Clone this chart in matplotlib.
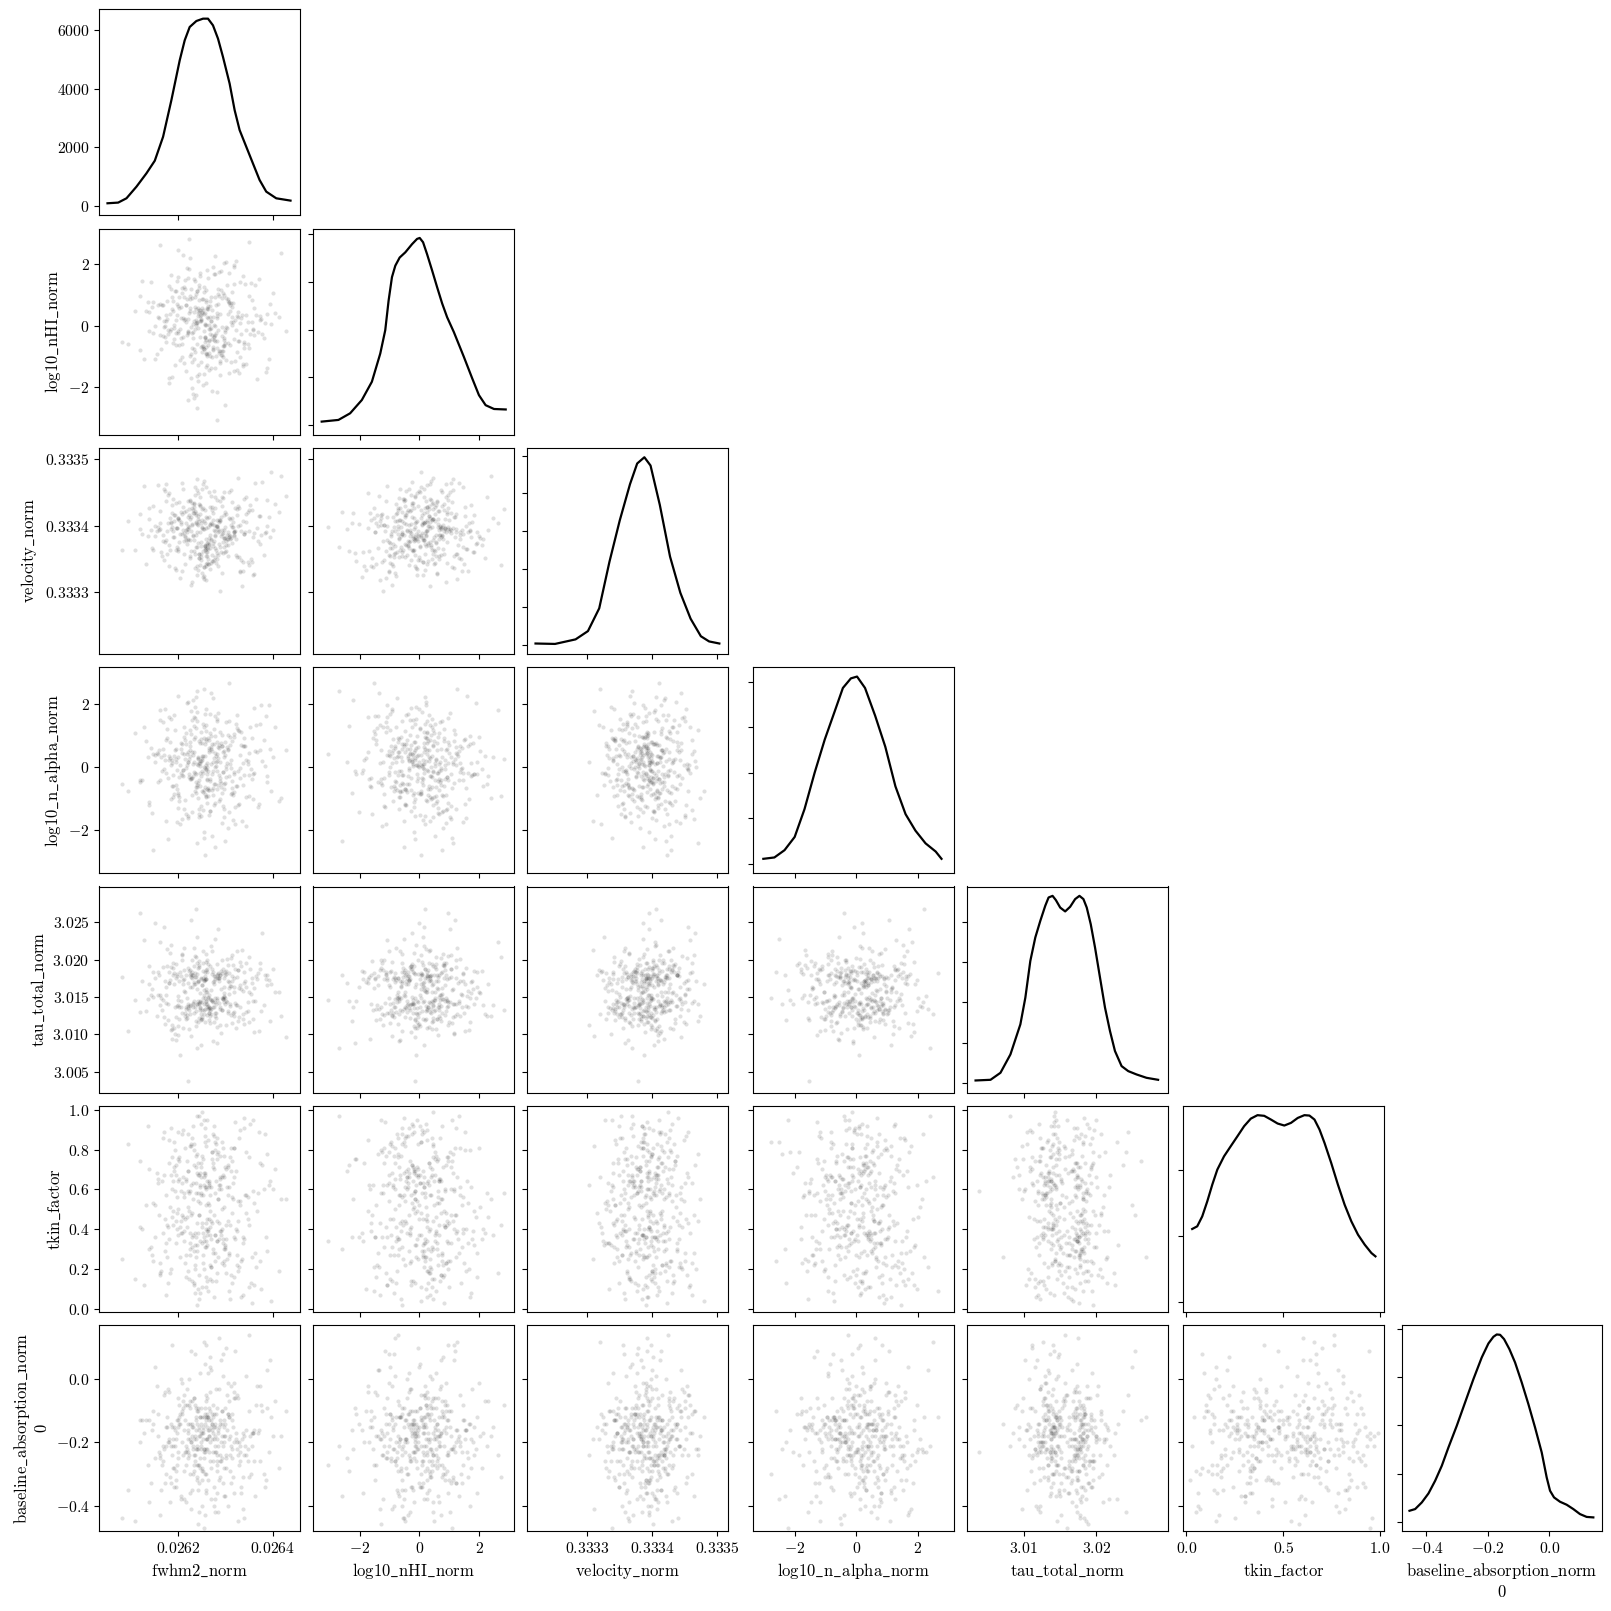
import matplotlib
matplotlib.use('Agg')
import matplotlib.pyplot as plt

plt.rcParams.update({
    'font.family': 'serif',
    'font.serif': ['cmr10', 'DejaVu Serif'],
    'mathtext.fontset': 'cm',
    'axes.formatter.use_mathtext': True,
    'axes.formatter.useoffset': False,
    'font.size': 11.3,
    'axes.labelsize': 12,
    'axes.linewidth': 0.8,
})

# ---------------- data ----------------
param_names = ['fwhm2_norm', 'log10_nHI_norm', 'velocity_norm', 'log10_n_alpha_norm',
               'tau_total_norm', 'tkin_factor', 'baseline_absorption_norm\n0']

fwhm2_norm = [
    0.026247, 0.026301, 0.026219, 0.026275, 0.026338, 0.026192, 0.026264, 0.026231, 0.026356, 0.026283, 0.026208, 0.026249, 0.026317, 0.026166, 0.026271, 0.026296, 0.026227, 0.026388, 0.026254, 0.026213,
    0.026309, 0.026238, 0.026180, 0.026268, 0.026326, 0.026257, 0.026142, 0.026293, 0.026233, 0.026361, 0.026201, 0.026279, 0.026246, 0.026324, 0.026188, 0.026259, 0.026412, 0.026222, 0.026286, 0.026241,
    0.026197, 0.026332, 0.026266, 0.026215, 0.026289, 0.026109, 0.026252, 0.026305, 0.026236, 0.026371, 0.026261, 0.026174, 0.026298, 0.026225, 0.026343, 0.026270, 0.026206, 0.026255, 0.026313, 0.026151,
    0.026277, 0.026242, 0.026350, 0.026189, 0.026263, 0.026229, 0.026304, 0.026163, 0.026284, 0.026250, 0.026397, 0.026218, 0.026273, 0.026196, 0.026321, 0.026244, 0.026281, 0.026125, 0.026260, 0.026335,
    0.026223, 0.026291, 0.026253, 0.026178, 0.026367, 0.026239, 0.026274, 0.026209, 0.026302, 0.026256, 0.026185, 0.026330, 0.026234, 0.026269, 0.026157, 0.026308, 0.026245, 0.026378, 0.026216, 0.026287,
    0.026262, 0.026194, 0.026319, 0.026237, 0.026282, 0.026136, 0.026258, 0.026344, 0.026221, 0.026297, 0.026183, 0.026267, 0.026230, 0.026354, 0.026248, 0.026205, 0.026310, 0.026172, 0.026278, 0.026240,
    0.026299, 0.026212, 0.026265, 0.026327, 0.026199, 0.026251, 0.026383, 0.026226, 0.026290, 0.026168, 0.026272, 0.026243, 0.026316, 0.026186, 0.026261, 0.026340, 0.026214, 0.026288, 0.026235, 0.026119,
    0.026255, 0.026306, 0.026228, 0.026363, 0.026244, 0.026280, 0.026191, 0.026323, 0.026259, 0.026210, 0.026294, 0.026148, 0.026270, 0.026237, 0.026347, 0.026203, 0.026276, 0.026252, 0.026404, 0.026220,
    0.026285, 0.026232, 0.026176, 0.026312, 0.026258, 0.026198, 0.026339, 0.026243, 0.026267, 0.026161, 0.026295, 0.026226, 0.026329, 0.026250, 0.026187, 0.026373, 0.026239, 0.026279, 0.026133, 0.026262,
    0.026217, 0.026300, 0.026246, 0.026358, 0.026207, 0.026271, 0.026236, 0.026318, 0.026182, 0.026256, 0.026292, 0.026224, 0.026391, 0.026263, 0.026195, 0.026307, 0.026248, 0.026170, 0.026283, 0.026229,
    0.026271, 0.026203, 0.026329, 0.026248, 0.026186, 0.026294, 0.026257, 0.026361, 0.026224, 0.026280, 0.026139, 0.026266, 0.026311, 0.026234, 0.026198, 0.026347, 0.026255, 0.026177, 0.026289, 0.026243,
    0.026318, 0.026229, 0.026264, 0.026151, 0.026302, 0.026252, 0.026381, 0.026211, 0.026274, 0.026239, 0.026336, 0.026190, 0.026268, 0.026296, 0.026222, 0.026427, 0.026259, 0.026168, 0.026314, 0.026247,
    0.026233, 0.026287, 0.026195, 0.026352, 0.026261, 0.026216, 0.026305, 0.026242, 0.026081, 0.026277, 0.026325, 0.026208, 0.026250, 0.026369, 0.026226, 0.026283, 0.026160, 0.026297, 0.026254, 0.026331,
    0.026260, 0.026184, 0.026322, 0.026236, 0.026292, 0.026145, 0.026269, 0.026241, 0.026356, 0.026219, 0.026301, 0.026174, 0.026275, 0.026230, 0.026394, 0.026255, 0.026201, 0.026285, 0.026120, 0.026313,
    0.026244, 0.026338, 0.026213, 0.026278, 0.026256, 0.026172, 0.026308, 0.026235, 0.026372, 0.026263, 0.026193, 0.026299, 0.026226, 0.026344, 0.026258, 0.026155, 0.026282, 0.026245, 0.026327, 0.026204,
    0.026292, 0.026238, 0.026165, 0.026315, 0.026251, 0.026387, 0.026220, 0.026273, 0.026199, 0.026306, 0.026260, 0.026128, 0.026289, 0.026232, 0.026350, 0.026214, 0.026268, 0.026309, 0.026182, 0.026257,
    0.026225, 0.026303, 0.026249, 0.026187, 0.026333, 0.026266, 0.026208, 0.026295, 0.026240, 0.026418, 0.026276, 0.026161, 0.026254, 0.026321, 0.026231, 0.026286, 0.026196, 0.026365, 0.026247, 0.026272,
    0.026300, 0.026217, 0.026262, 0.026342, 0.026179, 0.026283, 0.026237, 0.026311, 0.026148, 0.026265, 0.026228, 0.026359, 0.026253, 0.026202, 0.026290, 0.026243, 0.026376, 0.026211, 0.026270, 0.026095,
    0.026248, 0.026324, 0.026189, 0.026279, 0.026234, 0.026297, 0.026158, 0.026267, 0.026313, 0.026221, 0.026349, 0.026256, 0.026175, 0.026288, 0.026244, 0.026401, 0.026206, 0.026274, 0.026238, 0.026330,
    0.026265, 0.026192, 0.026307, 0.026227, 0.026282, 0.026139, 0.026259, 0.026340, 0.026246, 0.026213, 0.026293, 0.026170, 0.026276, 0.026319, 0.026233, 0.026261, 0.026385, 0.026200, 0.026284, 0.026250,
]

log10_nHI_norm = [
    0.31, -1.12, 0.87, -0.45, 1.63, -0.08, 0.54, -2.21, 0.12, -0.73, 1.05, 0.22, -1.48, 0.66, -0.29, 2.04, -0.91, 0.38, -0.17, 1.27,
    -0.62, 0.09, -1.85, 0.79, 0.45, -0.36, 1.41, -0.04, -1.07, 0.58, 2.47, -0.51, 0.17, -0.84, 0.95, -1.33, 0.27, -0.19, 1.76, -2.68,
    0.71, -0.27, 0.03, 1.18, -1.61, 0.49, -0.66, 0.88, -0.12, 1.52, -0.98, 0.34, -0.41, 2.19, -1.24, 0.14, 0.62, -0.77, 1.09, -0.02,
    -1.39, 0.41, 0.98, -0.55, 0.25, -2.03, 1.34, -0.31, 0.72, -0.86, 0.06, 1.88, -0.69, 0.19, -1.16, 0.83, -0.23, 1.47, -0.47, 0.36,
    2.81, -0.95, 0.52, -0.14, -1.72, 1.13, 0.28, -0.59, 0.91, -0.38, 1.66, -1.02, 0.44, -0.07, 0.68, -1.53, 1.22, -0.26, 0.11, -0.81,
    0.57, -1.29, 1.91, 0.01, -0.49, 0.76, -0.93, 0.35, -2.42, 1.01, -0.18, 0.64, -0.71, 1.39, 0.16, -1.11, 0.47, -0.35, 2.26, -0.58,
    -0.21, 0.93, -1.44, 0.29, 1.58, -0.65, 0.08, -0.99, 1.16, -0.33, 0.51, -1.79, 0.74, -0.11, 1.82, -0.53, 0.21, -1.21, 0.61, 0.97,
    -0.76, 0.39, -0.03, 1.31, -1.57, 0.69, -0.44, 2.11, -0.88, 0.24, 1.07, -0.24, -1.36, 0.55, 0.13, -0.64, 1.69, -1.93, 0.42, -0.16,
    1.21, -0.39, 0.81, -1.19, 0.04, 1.44, -0.72, 0.33, -0.09, 2.62, -1.01, 0.59, -0.48, 0.86, -1.66, 0.18, 1.12, -0.30, 0.48, -1.27,
    0.67, -0.57, 1.73, -0.15, 0.26, -2.11, 0.94, -0.42, 1.29, 0.07, -0.83, 0.43, -1.09, 1.55, -0.25, 0.74, -0.68, 0.15, -3.05, 0.89,
    -0.44, 0.92, -1.53, 0.18, 1.21, -0.67, 0.03, -0.29, 1.84, -0.97, 0.46, -0.12, 0.73, -2.36, 0.35, -0.58, 1.09, 0.21, -0.81, 0.57,
    1.37, -0.22, 0.64, -1.09, -0.05, 0.88, -0.41, 2.29, -0.74, 0.11, -1.31, 0.49, 0.27, -0.63, 1.56, -0.16, -1.87, 0.69, 0.04, -0.35,
    0.16, -0.88, 1.12, -0.26, 0.53, -1.46, 0.79, -0.07, -0.54, 1.68, 0.31, -1.02, 0.42, -0.19, 0.96, -2.14, 0.24, -0.47, 1.26, 0.08,
    -0.69, 0.37, -0.13, 1.47, -0.96, 0.61, 0.14, -1.62, 0.83, -0.31, 2.08, -0.53, 0.01, -1.18, 0.71, 0.38, -0.23, 1.03, -0.79, 0.29,
    0.51, -1.24, 0.19, 0.94, -0.39, -0.01, 1.72, -0.85, 0.33, -0.61, 1.14, -2.57, 0.47, -0.14, 0.78, -0.92, 0.26, 1.33, -0.48, -0.11,
    -0.33, 1.04, -0.76, 0.12, 0.59, -1.39, 0.22, 1.91, -0.18, -0.57, 0.84, -1.08, 0.39, 0.06, -0.71, 1.49, -0.27, 0.66, -1.71, 0.43,
    0.87, -0.06, -1.17, 0.55, 0.25, -0.45, 1.23, -0.82, 0.09, 2.38, -0.37, 0.72, -1.56, 0.18, -0.21, 0.98, -0.64, 0.34, 1.61, -1.01,
    -0.15, 0.67, -0.93, 1.36, -0.28, 0.41, -2.26, 0.13, 0.77, -0.49, 1.18, -0.09, -0.73, 0.58, 1.79, -1.28, 0.23, -0.36, 0.92, -0.58,
    0.35, -1.43, 0.82, -0.02, 1.53, -0.67, 0.27, -0.98, 0.61, -0.24, 2.71, -0.52, 0.14, -1.13, 0.46, 1.07, -0.41, -0.80, 0.19, 1.42,
    -0.87, 0.04, 0.76, -1.69, 0.31, -0.17, 1.17, -0.59, 0.52, -1.21, 0.89, -0.04, -0.34, 1.98, -0.77, 0.28, -1.49, 0.63, -0.13, 0.44,
]

velocity_norm = [
    0.3334302, 0.3333615, 0.3333948, 0.3334517, 0.3333327, 0.3334071, 0.3333762, 0.3334189, 0.3333459, 0.3333993, 0.3334644, 0.3333701, 0.3333910, 0.3333548, 0.3334236, 0.3333823, 0.3333102, 0.3334385, 0.3333956, 0.3333581,
    0.3333841, 0.3334157, 0.3333394, 0.3334012, 0.3334712, 0.3333669, 0.3333933, 0.3334296, 0.3333780, 0.3333271, 0.3334118, 0.3333865, 0.3334439, 0.3333528, 0.3333977, 0.3333186, 0.3334204, 0.3333806, 0.3334063, 0.3333688,
    0.3333962, 0.3333488, 0.3334501, 0.3333831, 0.3334079, 0.3333637, 0.3334268, 0.3333901, 0.3333372, 0.3334142, 0.3333735, 0.3334620, 0.3333941, 0.3333512, 0.3334183, 0.3333787, 0.3334027, 0.3333246, 0.3334358, 0.3333852,
    0.3333668, 0.3334094, 0.3333920, 0.3334409, 0.3333421, 0.3334031, 0.3333796, 0.3334216, 0.3333560, 0.3333984, 0.3334803, 0.3333720, 0.3334087, 0.3333341, 0.3333926, 0.3334321, 0.3333643, 0.3333879, 0.3334135, 0.3333089,
    0.3334254, 0.3333843, 0.3333613, 0.3334046, 0.3333968, 0.3334541, 0.3333466, 0.3333872, 0.3334177, 0.3333701, 0.3334038, 0.3333303, 0.3334337, 0.3333803, 0.3333987, 0.3334109, 0.3333571, 0.3334662, 0.3333791, 0.3333926,
    0.3333551, 0.3334158, 0.3333903, 0.3333684, 0.3334392, 0.3333846, 0.3333418, 0.3334058, 0.3333950, 0.3334512, 0.3333638, 0.3333864, 0.3334262, 0.3333493, 0.3334034, 0.3333211, 0.3334102, 0.3333749, 0.3334429, 0.3333913,
    0.3333819, 0.3334202, 0.3333432, 0.3334001, 0.3333655, 0.3334559, 0.3333889, 0.3333543, 0.3334129, 0.3333773, 0.3334289, 0.3333333, 0.3333976, 0.3334053, 0.3333606, 0.3334397, 0.3333841, 0.3333024, 0.3334220, 0.3333952,
    0.3334073, 0.3333718, 0.3333926, 0.3334647, 0.3333518, 0.3333995, 0.3334162, 0.3333801, 0.3333397, 0.3334281, 0.3333894, 0.3333629, 0.3334445, 0.3333856, 0.3333460, 0.3334091, 0.3333934, 0.3333228, 0.3334326, 0.3333787,
    0.3333899, 0.3334240, 0.3333575, 0.3334012, 0.3334575, 0.3333680, 0.3333876, 0.3334145, 0.3333350, 0.3334041, 0.3333761, 0.3334378, 0.3333537, 0.3333959, 0.3334186, 0.3333733, 0.3334708, 0.3333850, 0.3333426, 0.3334109,
    0.3333932, 0.3333599, 0.3334311, 0.3333827, 0.3334059, 0.3333476, 0.3334464, 0.3333916, 0.3333708, 0.3334231, 0.3333293, 0.3333986, 0.3334137, 0.3333647, 0.3334348, 0.3333861, 0.3333525, 0.3334558, 0.3333977, 0.3333150,
    0.3334021, 0.3333752, 0.3334266, 0.3333582, 0.3333947, 0.3334413, 0.3333695, 0.3333884, 0.3334160, 0.3333437, 0.3334098, 0.3333813, 0.3334533, 0.3333619, 0.3333970, 0.3334214, 0.3333380, 0.3333918, 0.3334065, 0.3333737,
    0.3333866, 0.3334345, 0.3333506, 0.3334003, 0.3333778, 0.3334622, 0.3333559, 0.3333935, 0.3334193, 0.3333264, 0.3334076, 0.3333833, 0.3334281, 0.3333677, 0.3333992, 0.3334441, 0.3333602, 0.3333859, 0.3334119, 0.3333404,
    0.3334188, 0.3333724, 0.3333961, 0.3334307, 0.3333447, 0.3334035, 0.3333808, 0.3334499, 0.3333632, 0.3333918, 0.3334247, 0.3333318, 0.3334084, 0.3333766, 0.3334381, 0.3333583, 0.3333942, 0.3334156, 0.3333195, 0.3334013,
    0.3333794, 0.3334122, 0.3333553, 0.3334580, 0.3333876, 0.3333661, 0.3334044, 0.3333399, 0.3334233, 0.3333905, 0.3333714, 0.3334365, 0.3333487, 0.3334010, 0.3333836, 0.3334675, 0.3333624, 0.3333954, 0.3334181, 0.3333742,
    0.3334069, 0.3333455, 0.3333890, 0.3334274, 0.3333706, 0.3334527, 0.3333827, 0.3333572, 0.3334148, 0.3333979, 0.3333361, 0.3334209, 0.3333783, 0.3334433, 0.3333649, 0.3333928, 0.3334087, 0.3333516, 0.3334304, 0.3333870,
    0.3333937, 0.3334195, 0.3333611, 0.3334054, 0.3333283, 0.3333996, 0.3334372, 0.3333745, 0.3334112, 0.3333538, 0.3333968, 0.3334591, 0.3333688, 0.3333854, 0.3334238, 0.3333419, 0.3334029, 0.3333801, 0.3334486, 0.3333643,
    0.3334105, 0.3333858, 0.3333478, 0.3334319, 0.3333920, 0.3333715, 0.3334171, 0.3333593, 0.3334029, 0.3334742, 0.3333771, 0.3333946, 0.3333376, 0.3334261, 0.3333839, 0.3334083, 0.3333632, 0.3334408, 0.3333901, 0.3333564,
    0.3333983, 0.3334227, 0.3333671, 0.3333901, 0.3334463, 0.3333497, 0.3334044, 0.3333818, 0.3334296, 0.3333731, 0.3334131, 0.3333266, 0.3333957, 0.3334352, 0.3333605, 0.3334008, 0.3333862, 0.3334553, 0.3333441, 0.3334076,
    0.3333749, 0.3334158, 0.3333924, 0.3333530, 0.3334284, 0.3333812, 0.3334617, 0.3333660, 0.3333975, 0.3334125, 0.3333405, 0.3334040, 0.3333788, 0.3334379, 0.3333575, 0.3333941, 0.3334214, 0.3333696, 0.3334063, 0.3333315,
    0.3334137, 0.3333829, 0.3334505, 0.3333624, 0.3333996, 0.3334261, 0.3333549, 0.3333880, 0.3334176, 0.3333768, 0.3334432, 0.3333482, 0.3334018, 0.3333853, 0.3334328, 0.3333709, 0.3333910, 0.3334094, 0.3333391, 0.3334249,
]

log10_n_alpha_norm = [
    -0.58, 1.42, 0.07, -1.21, 0.66, 0.34, -0.92, 2.13, -0.37, 0.81, -1.64, 0.19, 1.04, -0.13, -0.71, 0.52, 1.77, -0.28, -2.06, 0.41,
    0.95, -0.46, 0.23, -1.38, 1.19, -0.04, 0.62, -0.83, 1.58, -0.19, 0.31, -2.52, 0.77, -0.61, 0.12, 1.33, -1.07, 0.48, -0.24, 2.41,
    -0.09, 0.71, -1.51, 0.27, -0.35, 1.08, -0.79, 0.56, 1.92, -1.18, 0.02, 0.87, -0.52, 0.36, -1.86, 0.64, -0.17, 1.26, -0.67, 0.18,
    1.61, -0.99, 0.44, -0.26, 0.92, -1.43, 0.13, 1.49, -0.55, 0.29, -0.74, 2.02, -0.11, 0.58, -1.27, 0.83, 0.05, -0.42, 1.14, -1.69,
    0.26, -0.63, 1.37, -2.28, 0.49, 0.09, -0.88, 0.73, -0.31, 1.68, -1.02, 0.38, -0.15, 0.99, -0.47, 2.66, -1.34, 0.21, -0.02, 0.61,
    -1.12, 0.54, -0.21, 1.23, -0.69, 0.33, 1.86, -0.94, 0.16, -1.59, 0.79, -0.38, 0.47, -0.06, 1.11, -1.79, 0.69, 0.24, -0.53, 1.45,
    0.39, -1.31, 0.86, -0.12, 2.27, -0.76, 0.03, 1.17, -0.49, 0.58, -2.17, 0.28, -0.87, 1.52, -0.23, 0.67, -1.04, 0.15, 0.96, -0.41,
    -0.72, 1.03, -0.33, 0.51, -1.47, 0.17, 1.64, -0.58, 0.89, -0.08, -1.22, 0.42, 2.34, -0.64, 0.11, -0.96, 0.74, -0.18, 1.28, -1.55,
    0.63, -0.27, 1.21, -0.84, 0.06, -1.73, 0.93, 0.32, -0.45, 1.81, -0.14, 0.55, -1.16, 0.22, -0.59, 1.36, -2.41, 0.46, 0.84, -0.36,
    1.09, -0.51, 0.14, -1.01, 0.76, -0.20, 1.56, -0.78, 0.37, -2.79, 0.68, -0.30, 1.98, -0.66, 0.25, -1.41, 0.88, -0.07, 0.43, -0.89,
    0.72, -0.31, 1.16, -1.54, 0.08, 0.47, -0.86, 1.89, -0.22, 0.35, -1.19, 0.61, -0.02, 1.31, -0.68, 0.19, -2.23, 0.93, -0.43, 0.26,
    -0.15, 1.51, -0.73, 0.39, 0.04, -1.36, 0.86, -0.27, 2.18, -0.57, 0.13, -0.94, 1.07, 0.32, -1.62, 0.56, -0.09, 1.43, -0.81, 0.21,
    0.48, -1.08, 0.17, 1.27, -0.39, 0.74, -1.93, 0.06, -0.52, 0.99, 1.64, -0.24, 0.37, -1.27, 0.81, -0.11, 0.55, -0.70, 2.49, -0.33,
    -0.96, 0.29, 1.38, -0.18, 0.66, -1.45, 0.11, -0.62, 0.91, 0.43, -0.06, -1.71, 1.22, -0.35, 0.59, 0.02, -0.88, 1.72, -0.46, 0.84,
    0.14, -0.55, 0.97, -1.13, 0.36, 1.83, -0.29, -0.77, 0.53, -0.12, 1.19, -2.34, 0.67, 0.23, -0.91, 0.44, 1.47, -0.40, -1.20, 0.07,
    1.02, -0.21, 0.31, -1.66, 0.78, -0.47, 2.06, 0.15, -0.83, 0.57, -0.05, 1.29, -1.01, 0.38, -0.26, 0.87, -1.39, 0.10, 1.59, -0.64,
    -0.37, 0.63, -1.24, 0.22, 1.11, -0.71, 0.45, -0.14, 1.76, -0.98, 0.28, -0.42, 0.94, -1.81, 0.09, 0.71, -0.56, 1.35, -0.19, 0.52,
    0.81, -1.47, 0.12, 0.66, -0.34, 1.54, -0.82, 0.24, -2.61, 0.47, 1.06, -0.23, 0.35, -1.06, 0.76, -0.49, 1.98, -0.10, 0.58, -0.75,
    -0.28, 1.24, -0.60, 0.01, 0.89, -1.32, 0.41, 1.68, -0.44, 0.16, -0.92, 0.73, -0.17, 1.13, -1.58, 0.32, 0.59, -0.65, 2.21, -0.03,
    0.54, -0.84, 1.45, -0.38, 0.20, -1.11, 0.83, -0.25, 0.05, 1.27, -1.76, 0.39, -0.54, 0.97, 0.18, -0.69, 1.61, -1.28, 0.30, -0.13,
]

tau_total_norm = [
    3.0143, 3.0181, 3.0126, 3.0172, 3.0158, 3.0109, 3.0194, 3.0137, 3.0169, 3.0149, 3.0206, 3.0121, 3.0176, 3.0133, 3.0188, 3.0155, 3.0098, 3.0179, 3.0141, 3.0216,
    3.0165, 3.0131, 3.0184, 3.0147, 3.0118, 3.0173, 3.0152, 3.0199, 3.0128, 3.0162, 3.0139, 3.0228, 3.0144, 3.0177, 3.0112, 3.0186, 3.0157, 3.0135, 3.0171, 3.0081,
    3.0138, 3.0192, 3.0153, 3.0124, 3.0179, 3.0146, 3.0211, 3.0131, 3.0167, 3.0104, 3.0183, 3.0142, 3.0175, 3.0127, 3.0196, 3.0159, 3.0136, 3.0173, 3.0115, 3.0249,
    3.0178, 3.0145, 3.0116, 3.0189, 3.0134, 3.0163, 3.0201, 3.0139, 3.0182, 3.0123, 3.0168, 3.0149, 3.0091, 3.0176, 3.0142, 3.0193, 3.0129, 3.0171, 3.0156, 3.0213,
    3.0132, 3.0185, 3.0148, 3.0119, 3.0174, 3.0161, 3.0137, 3.0207, 3.0144, 3.0178, 3.0106, 3.0166, 3.0191, 3.0127, 3.0152, 3.0182, 3.0140, 3.0236, 3.0121, 3.0175,
    3.0187, 3.0136, 3.0163, 3.0111, 3.0180, 3.0147, 3.0197, 3.0130, 3.0169, 3.0143, 3.0209, 3.0124, 3.0176, 3.0154, 3.0085, 3.0184, 3.0138, 3.0172, 3.0125, 3.0195,
    3.0141, 3.0174, 3.0119, 3.0186, 3.0151, 3.0133, 3.0179, 3.0164, 3.0102, 3.0190, 3.0146, 3.0170, 3.0128, 3.0219, 3.0140, 3.0183, 3.0156, 3.0113, 3.0177, 3.0262,
    3.0152, 3.0129, 3.0181, 3.0145, 3.0198, 3.0122, 3.0167, 3.0139, 3.0174, 3.0108, 3.0188, 3.0150, 3.0134, 3.0203, 3.0143, 3.0171, 3.0117, 3.0185, 3.0157, 3.0038,
    3.0176, 3.0140, 3.0192, 3.0126, 3.0160, 3.0181, 3.0114, 3.0172, 3.0135, 3.0224, 3.0148, 3.0179, 3.0123, 3.0166, 3.0094, 3.0187, 3.0141, 3.0174, 3.0131, 3.0200,
    3.0137, 3.0183, 3.0155, 3.0120, 3.0178, 3.0144, 3.0205, 3.0130, 3.0169, 3.0149, 3.0182, 3.0107, 3.0173, 3.0138, 3.0194, 3.0162, 3.0127, 3.0244, 3.0146, 3.0180,
    3.0181, 3.0136, 3.0162, 3.0119, 3.0190, 3.0147, 3.0174, 3.0103, 3.0185, 3.0140, 3.0167, 3.0128, 3.0202, 3.0145, 3.0178, 3.0131, 3.0159, 3.0214, 3.0137, 3.0172,
    3.0125, 3.0184, 3.0150, 3.0176, 3.0112, 3.0195, 3.0139, 3.0168, 3.0143, 3.0230, 3.0120, 3.0180, 3.0133, 3.0163, 3.0189, 3.0097, 3.0174, 3.0146, 3.0206, 3.0135,
    3.0170, 3.0142, 3.0123, 3.0187, 3.0156, 3.0134, 3.0193, 3.0116, 3.0177, 3.0148, 3.0211, 3.0129, 3.0166, 3.0182, 3.0138, 3.0088, 3.0179, 3.0151, 3.0127, 3.0197,
    3.0144, 3.0173, 3.0109, 3.0182, 3.0132, 3.0160, 3.0218, 3.0141, 3.0176, 3.0122, 3.0185, 3.0153, 3.0137, 3.0199, 3.0118, 3.0171, 3.0146, 3.0241, 3.0130, 3.0178,
    3.0190, 3.0127, 3.0158, 3.0143, 3.0184, 3.0114, 3.0170, 3.0136, 3.0196, 3.0149, 3.0101, 3.0180, 3.0139, 3.0164, 3.0208, 3.0124, 3.0175, 3.0142, 3.0186, 3.0072,
    3.0133, 3.0177, 3.0148, 3.0193, 3.0121, 3.0166, 3.0138, 3.0183, 3.0111, 3.0172, 3.0145, 3.0226, 3.0134, 3.0179, 3.0157, 3.0128, 3.0191, 3.0140, 3.0169, 3.0117,
    3.0186, 3.0143, 3.0174, 3.0107, 3.0161, 3.0135, 3.0200, 3.0147, 3.0181, 3.0125, 3.0168, 3.0152, 3.0132, 3.0188, 3.0142, 3.0175, 3.0093, 3.0178, 3.0137, 3.0212,
    3.0149, 3.0179, 3.0126, 3.0171, 3.0140, 3.0194, 3.0118, 3.0165, 3.0183, 3.0136, 3.0253, 3.0144, 3.0176, 3.0121, 3.0160, 3.0189, 3.0131, 3.0173, 3.0146, 3.0105,
    3.0175, 3.0139, 3.0196, 3.0129, 3.0167, 3.0150, 3.0184, 3.0115, 3.0172, 3.0141, 3.0204, 3.0134, 3.0163, 3.0180, 3.0122, 3.0187, 3.0145, 3.0170, 3.0268, 3.0136,
    3.0128, 3.0182, 3.0154, 3.0177, 3.0110, 3.0192, 3.0140, 3.0169, 3.0133, 3.0186, 3.0148, 3.0123, 3.0178, 3.0157, 3.0215, 3.0137, 3.0174, 3.0099, 3.0181, 3.0143,
]

tkin_factor = [
    0.62, 0.18, 0.41, 0.87, 0.33, 0.71, 0.09, 0.55, 0.26, 0.78, 0.47, 0.93, 0.36, 0.64, 0.14, 0.51, 0.82, 0.29, 0.68, 0.39,
    0.05, 0.58, 0.73, 0.22, 0.44, 0.91, 0.31, 0.66, 0.12, 0.53, 0.37, 0.84, 0.61, 0.27, 0.76, 0.43, 0.19, 0.69, 0.35, 0.97,
    0.48, 0.24, 0.63, 0.81, 0.39, 0.15, 0.57, 0.72, 0.32, 0.89, 0.45, 0.07, 0.66, 0.38, 0.79, 0.21, 0.59, 0.34, 0.74, 0.52,
    0.28, 0.67, 0.11, 0.42, 0.85, 0.36, 0.61, 0.23, 0.55, 0.77, 0.04, 0.46, 0.71, 0.33, 0.94, 0.17, 0.64, 0.40, 0.82, 0.25,
    0.58, 0.37, 0.75, 0.13, 0.49, 0.68, 0.30, 0.88, 0.42, 0.61, 0.20, 0.54, 0.83, 0.35, 0.65, 0.09, 0.47, 0.72, 0.27, 0.60,
    0.39, 0.80, 0.16, 0.63, 0.44, 0.92, 0.31, 0.57, 0.69, 0.24, 0.51, 0.37, 0.86, 0.13, 0.66, 0.41, 0.76, 0.29, 0.58, 0.02,
    0.71, 0.34, 0.52, 0.19, 0.64, 0.43, 0.88, 0.27, 0.60, 0.38, 0.79, 0.10, 0.55, 0.67, 0.32, 0.96, 0.45, 0.62, 0.22, 0.74,
    0.36, 0.57, 0.83, 0.28, 0.47, 0.14, 0.69, 0.40, 0.61, 0.90, 0.33, 0.53, 0.21, 0.77, 0.45, 0.65, 0.06, 0.38, 0.70, 0.59,
    0.26, 0.63, 0.42, 0.81, 0.11, 0.56, 0.35, 0.73, 0.49, 0.18, 0.67, 0.30, 0.86, 0.41, 0.60, 0.24, 0.78, 0.37, 0.52, 0.95,
    0.64, 0.31, 0.08, 0.59, 0.44, 0.75, 0.20, 0.66, 0.35, 0.84, 0.50, 0.15, 0.62, 0.40, 0.72, 0.27, 0.57, 0.89, 0.34, 0.48,
    0.43, 0.76, 0.21, 0.58, 0.91, 0.35, 0.67, 0.12, 0.49, 0.83, 0.30, 0.62, 0.17, 0.72, 0.40, 0.56, 0.95, 0.26, 0.65, 0.38,
    0.81, 0.14, 0.53, 0.36, 0.70, 0.23, 0.60, 0.46, 0.88, 0.32, 0.07, 0.64, 0.41, 0.77, 0.19, 0.55, 0.34, 0.86, 0.48, 0.68,
    0.29, 0.62, 0.44, 0.93, 0.37, 0.16, 0.71, 0.54, 0.25, 0.80, 0.39, 0.63, 0.11, 0.58, 0.33, 0.75, 0.47, 0.22, 0.66, 0.90,
    0.52, 0.18, 0.69, 0.38, 0.84, 0.27, 0.61, 0.43, 0.03, 0.74, 0.35, 0.57, 0.92, 0.31, 0.64, 0.20, 0.50, 0.79, 0.41, 0.13,
    0.67, 0.36, 0.56, 0.24, 0.87, 0.45, 0.61, 0.08, 0.73, 0.39, 0.59, 0.30, 0.82, 0.48, 0.16, 0.68, 0.34, 0.97, 0.54, 0.26,
    0.40, 0.71, 0.19, 0.63, 0.33, 0.78, 0.51, 0.28, 0.89, 0.44, 0.60, 0.12, 0.66, 0.37, 0.76, 0.23, 0.57, 0.42, 0.85, 0.31,
    0.59, 0.25, 0.73, 0.46, 0.06, 0.64, 0.38, 0.81, 0.29, 0.55, 0.70, 0.17, 0.62, 0.35, 0.92, 0.43, 0.67, 0.21, 0.53, 0.79,
    0.32, 0.65, 0.14, 0.57, 0.41, 0.86, 0.36, 0.69, 0.24, 0.61, 0.47, 0.95, 0.27, 0.74, 0.39, 0.58, 0.10, 0.66, 0.44, 0.83,
    0.71, 0.22, 0.49, 0.37, 0.80, 0.30, 0.63, 0.15, 0.56, 0.88, 0.42, 0.68, 0.33, 0.77, 0.05, 0.60, 0.38, 0.73, 0.26, 0.52,
    0.45, 0.84, 0.28, 0.62, 0.18, 0.70, 0.40, 0.91, 0.34, 0.58, 0.23, 0.67, 0.47, 0.81, 0.13, 0.64, 0.36, 0.75, 0.55, 0.99,
]

baseline_absorption_norm = [
    -0.12, -0.25, -0.08, -0.19, -0.31, -0.15, 0.02, -0.22, -0.17, -0.36, -0.10, -0.21, -0.04, -0.27, -0.14, -0.18, -0.41, -0.09, -0.23, -0.16,
    -0.29, -0.13, -0.20, 0.07, -0.24, -0.11, -0.33, -0.18, -0.06, -0.26, -0.15, -0.38, -0.12, -0.22, 0.11, -0.19, -0.28, -0.14, -0.03, -0.21,
    -0.17, -0.34, -0.09, -0.23, -0.13, -0.45, -0.19, -0.01, -0.26, -0.16, -0.11, -0.30, -0.20, -0.07, -0.24, -0.15, -0.37, -0.12, -0.22, 0.04,
    -0.18, -0.27, -0.10, -0.21, -0.32, -0.14, -0.05, -0.25, -0.17, -0.40, -0.12, -0.22, -0.08, -0.29, 0.09, -0.16, -0.23, -0.13, -0.35, -0.19,
    -0.08, -0.26, -0.15, -0.20, -0.02, -0.31, -0.17, -0.11, -0.24, -0.43, -0.14, -0.21, -0.06, -0.28, -0.18, -0.12, -0.33, -0.10, -0.23, 0.13,
    -0.22, -0.16, -0.36, -0.09, -0.19, -0.27, -0.13, 0.01, -0.25, -0.15, -0.39, -0.20, -0.07, -0.30, -0.17, -0.11, -0.24, -0.04, -0.21, -0.32,
    -0.14, -0.29, -0.18, -0.06, -0.23, -0.12, -0.34, -0.19, 0.06, -0.26, -0.16, -0.10, -0.31, -0.21, -0.15, -0.44, -0.08, -0.24, -0.18, -0.13,
    -0.25, -0.11, -0.20, -0.37, -0.15, -0.03, -0.28, -0.17, -0.22, -0.09, -0.33, -0.14, 0.03, -0.19, -0.26, -0.12, -0.40, -0.16, -0.07, -0.23,
    -0.16, -0.30, -0.12, -0.21, -0.05, -0.27, -0.18, -0.35, -0.10, -0.24, 0.08, -0.14, -0.20, -0.32, -0.15, -0.02, -0.22, -0.42, -0.13, -0.19,
    -0.21, -0.09, -0.28, -0.17, -0.38, -0.11, -0.24, -0.06, -0.19, -0.30, -0.14, 0.00, -0.23, -0.16, -0.34, -0.12, -0.20, -0.05, -0.27, -0.15,
    -0.19, -0.08, -0.27, -0.14, -0.33, -0.21, 0.05, -0.16, -0.24, -0.11, -0.39, -0.18, -0.02, -0.29, -0.13, -0.22, -0.47, -0.15, -0.26, -0.09,
    -0.20, -0.35, -0.12, -0.25, 0.10, -0.17, -0.30, -0.07, -0.23, -0.14, -0.41, -0.19, -0.04, -0.28, -0.16, -0.10, -0.36, -0.21, -0.13, 0.02,
    -0.24, -0.15, -0.32, -0.18, -0.06, -0.27, -0.11, -0.22, -0.44, -0.14, -0.20, -0.01, -0.29, -0.17, -0.36, -0.09, -0.23, -0.13, 0.12, -0.26,
    -0.12, -0.31, -0.19, -0.08, -0.25, -0.16, -0.38, -0.10, -0.21, -0.03, -0.28, -0.15, -0.34, -0.18, 0.06, -0.22, -0.13, -0.42, -0.20, -0.11,
    -0.27, -0.17, -0.05, -0.23, -0.14, -0.33, -0.19, 0.08, -0.26, -0.12, -0.21, -0.37, -0.09, -0.16, -0.30, -0.02, -0.24, -0.18, -0.45, -0.14,
    -0.10, -0.22, -0.35, -0.15, -0.28, 0.03, -0.19, -0.12, -0.25, -0.40, -0.07, -0.17, -0.31, -0.21, 0.14, -0.13, -0.26, -0.18, -0.04, -0.23,
    -0.30, -0.16, -0.09, -0.24, -0.36, -0.13, -0.20, 0.01, -0.27, -0.18, -0.11, -0.43, -0.22, -0.06, -0.15, -0.32, -0.19, -0.08, -0.25, -0.14,
    -0.18, -0.39, -0.12, -0.21, -0.03, -0.26, -0.16, -0.33, -0.10, -0.23, 0.09, -0.17, -0.29, -0.14, -0.20, -0.46, -0.08, -0.24, -0.13, -0.35,
    -0.22, -0.05, -0.28, -0.15, -0.19, -0.37, -0.11, 0.04, -0.25, -0.17, -0.31, -0.09, -0.21, -0.14, -0.42, -0.18, 0.00, -0.26, -0.12, -0.23,
    -0.16, -0.34, -0.07, -0.20, -0.29, -0.13, 0.11, -0.24, -0.18, -0.38, -0.10, -0.22, -0.15, -0.01, -0.27, -0.19, -0.32, -0.06, -0.21, -0.17,
]

# marginal density curves
kde_x_fwhm2 = [0.0260513, 0.0260738, 0.0260913, 0.0261124, 0.0261334, 0.0261510, 0.0261685, 0.0261860, 0.0262036,
               0.0262141, 0.0262246, 0.0262387, 0.0262527, 0.0262632, 0.0262737, 0.0262843, 0.0262948, 0.0263088,
               0.0263194, 0.0263299, 0.0263439, 0.0263579, 0.0263720, 0.0263860, 0.0264071, 0.0264372]
kde_y_fwhm2 = [91, 114, 261, 659, 1114, 1545, 2363, 3613, 4977, 5659, 6113, 6318, 6398, 6398, 6170, 5716, 5091, 4182,
               3272, 2591, 2022, 1455, 886, 489, 261, 182]

kde_x_nHI = [-3.263, -2.704, -2.313, -1.922, -1.587, -1.307, -1.140, -1.028, -0.916, -0.804, -0.659, -0.469, -0.246,
             -0.078, 0.011, 0.123, 0.257, 0.425, 0.592, 0.760, 0.927, 1.151, 1.486, 1.765, 1.989, 2.212, 2.492, 2.883]
kde_y_nHI = [0.0076, 0.0111, 0.025, 0.0528, 0.091, 0.150, 0.199, 0.261, 0.310, 0.334, 0.351, 0.362, 0.379, 0.390, 0.392,
             0.383, 0.358, 0.324, 0.289, 0.255, 0.226, 0.195, 0.143, 0.098, 0.063, 0.042, 0.034, 0.033]

kde_x_velocity = [0.3332201, 0.3332502, 0.3332819, 0.3333010, 0.3333184, 0.3333342, 0.3333501, 0.3333659, 0.3333770,
                  0.3333881, 0.3333976, 0.3334119, 0.3334277, 0.3334436, 0.3334594, 0.3334753, 0.3334880, 0.3335038]
kde_y_velocity = [68, 40, 342, 890, 2397, 5479, 8219, 10616, 11986, 12397, 11849, 9247, 5822, 3425, 1712, 548, 205, 68]

kde_x_alpha = [-3.03, -2.67, -2.34, -2.01, -1.69, -1.36, -1.03, -0.70, -0.44, -0.18, 0.02, 0.28, 0.61, 0.94, 1.27,
               1.60, 1.92, 2.25, 2.58, 2.77]
kde_y_alpha = [0.011, 0.014, 0.030, 0.059, 0.120, 0.200, 0.273, 0.336, 0.386, 0.407, 0.411, 0.386, 0.325, 0.257, 0.170,
               0.109, 0.073, 0.045, 0.027, 0.011]

kde_x_tau = [3.003379, 3.005434, 3.006804, 3.008174, 3.009543, 3.010228, 3.010913, 3.011598, 3.012283, 3.012968,
             3.013425, 3.013973, 3.014429, 3.015023, 3.015708, 3.016393, 3.017078, 3.017671, 3.018219, 3.018676,
             3.019224, 3.019817, 3.020502, 3.021187, 3.021872, 3.022557, 3.023470, 3.024384, 3.025525, 3.026895, 3.028493]
kde_y_tau = [1.32, 1.65, 5.12, 14.2, 29.1, 42.3, 60.5, 72.1, 80.3, 87.8, 91.9, 92.7, 90.6, 86.9, 85.0, 87.3, 91.1, 92.7,
             91.1, 86.9, 78.7, 67.1, 52.2, 37.4, 25.8, 15.9, 8.43, 5.95, 4.30, 2.64, 1.65]

kde_x_tkin = [0.0294, 0.0554, 0.0813, 0.1073, 0.1332, 0.1592, 0.1938, 0.2284, 0.2630, 0.2976, 0.3322, 0.3668, 0.4014,
              0.4360, 0.4706, 0.5052, 0.5398, 0.5744, 0.6090, 0.6349, 0.6609, 0.6869, 0.7128, 0.7474, 0.7820, 0.8166,
              0.8512, 0.8858, 0.9204, 0.9550, 0.9758]
kde_y_tkin = [0.553, 0.573, 0.648, 0.761, 0.887, 1.000, 1.100, 1.176, 1.251, 1.327, 1.384, 1.410, 1.405, 1.377, 1.347,
              1.332, 1.352, 1.389, 1.410, 1.407, 1.377, 1.302, 1.201, 1.050, 0.887, 0.736, 0.611, 0.510, 0.435, 0.372,
              0.347]

kde_x_baseline = [-0.4553, -0.4369, -0.4152, -0.3935, -0.3718, -0.3501, -0.3285, -0.3014, -0.2743, -0.2472, -0.2201,
                  -0.1984, -0.1821, -0.1713, -0.1604, -0.1474, -0.1301, -0.1117, -0.0900, -0.0683, -0.0466, -0.0249,
                  -0.0087, 0.0022, 0.0152, 0.0347, 0.0564, 0.0780, 0.0997, 0.1214, 0.1431]
kde_y_baseline = [0.228, 0.263, 0.401, 0.588, 0.851, 1.163, 1.543, 1.993, 2.478, 2.962, 3.412, 3.702, 3.841, 3.889,
                  3.882, 3.792, 3.585, 3.308, 2.893, 2.443, 1.958, 1.439, 0.920, 0.644, 0.505, 0.415, 0.353, 0.263,
                  0.159, 0.100, 0.090]

samples = [fwhm2_norm, log10_nHI_norm, velocity_norm, log10_n_alpha_norm, tau_total_norm, tkin_factor,
           baseline_absorption_norm]
kde_x = [kde_x_fwhm2, kde_x_nHI, kde_x_velocity, kde_x_alpha, kde_x_tau, kde_x_tkin, kde_x_baseline]
kde_y = [kde_y_fwhm2, kde_y_nHI, kde_y_velocity, kde_y_alpha, kde_y_tau, kde_y_tkin, kde_y_baseline]

# axis limits of each parameter
limits = [(0.026034, 0.026457), (-3.54, 3.16), (0.3332074, 0.3335170), (-3.36, 3.17),
          (3.0022, 3.0298), (-0.016, 1.02), (-0.481, 0.172)]

# ---------------- layout ----------------
W = H = 1611.0
col_left = [99.3, 313.4, 527.3, 753.2, 967.0, 1183.4, 1401.6]
row_top = [9.3, 228.6, 447.9, 667.2, 886.5, 1105.8, 1325.1]
ax_w, ax_h = 200.6, 206.0


def label_tex(name):
    out = []
    for ln in name.split('\n'):
        out.append(r'$\mathrm{' + ln.replace('_', r'\_') + '}$')
    return '\n'.join(out)


fig = plt.figure(figsize=(W / 100, H / 100), dpi=100)
n = len(param_names)
for i in range(n):
    for j in range(i + 1):
        rect = [col_left[j] / W, 1 - (row_top[i] + ax_h) / H, ax_w / W, ax_h / H]
        ax = fig.add_axes(rect)
        ax.set_xlim(*limits[j])
        if i == j:
            ax.plot(kde_x[i], kde_y[i], color='k', lw=1.6, solid_joinstyle='round')
            m = max(kde_y[i])
            ax.set_ylim(-0.05 * m, 1.05 * m)
        else:
            ax.scatter(samples[j], samples[i], s=9, color='k', alpha=0.12, linewidths=0)
            ax.set_ylim(*limits[i])
        ax.tick_params(labelbottom=(i == n - 1), labelleft=(j == 0), direction='out', length=3.5, width=0.8)
        if i == n - 1:
            ax.set_xlabel(label_tex(param_names[j]))
        if j == 0 and i > 0:
            ax.set_ylabel(label_tex(param_names[i]))

fig.savefig('out.png', dpi=100)
